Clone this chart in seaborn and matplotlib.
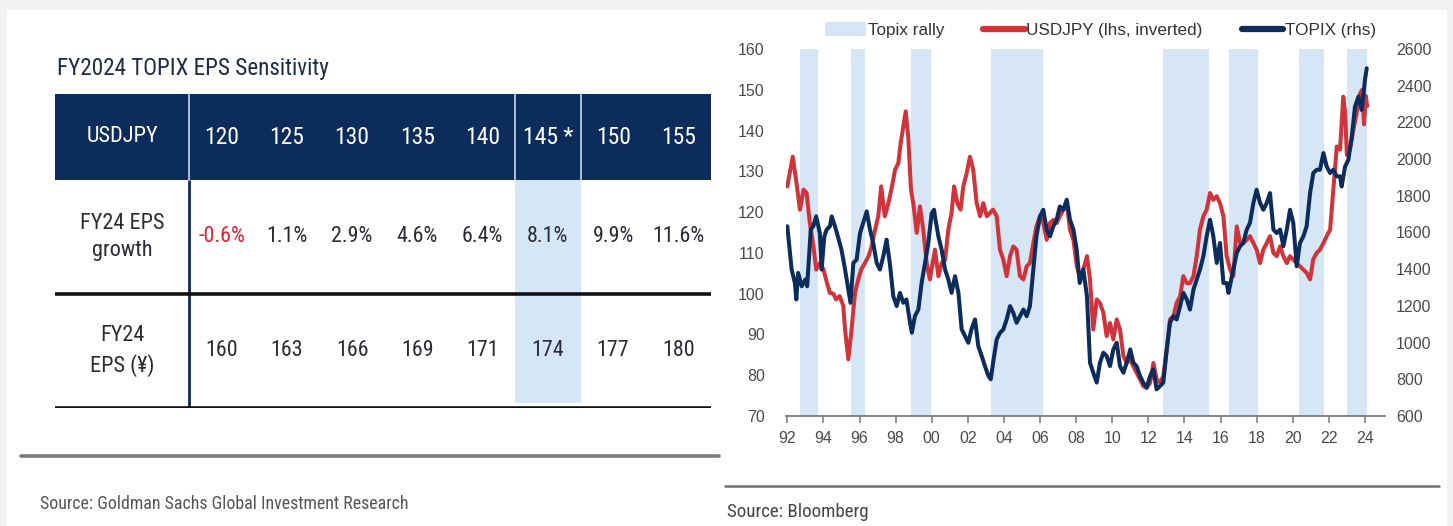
import matplotlib
matplotlib.use("Agg")
import matplotlib.pyplot as plt
from matplotlib import font_manager as fm
from matplotlib.font_manager import FontProperties
from matplotlib.patches import Rectangle, Patch
from matplotlib.lines import Line2D
import seaborn as sns

# ---------------- data ----------------
table_title = "FY2024 TOPIX EPS Sensitivity"
usdjpy_levels = ["120", "125", "130", "135", "140", "145 *", "150", "155"]
eps_growth = ["-0.6%", "1.1%", "2.9%", "4.6%", "6.4%", "8.1%", "9.9%", "11.6%"]
eps_level = ["160", "163", "166", "169", "171", "174", "177", "180"]
row_labels = ["USDJPY", "FY24 EPS\ngrowth", "FY24\nEPS (¥)"]
highlight_col = 5

usd_t = [1992.00, 1992.30, 1992.50, 1992.70, 1992.90, 1993.07, 1993.25, 1993.45, 1993.60, 1993.80,
         1994.00, 1994.20, 1994.36, 1994.55, 1994.70, 1994.90, 1995.10, 1995.20, 1995.38, 1995.56,
         1995.75, 1995.93, 1996.10, 1996.30, 1996.50, 1996.67, 1996.86, 1997.04, 1997.20, 1997.40,
         1997.60, 1997.80, 1997.97, 1998.15, 1998.28, 1998.43, 1998.56, 1998.70, 1998.85, 1998.98,
         1999.17, 1999.35, 1999.53, 1999.72, 1999.90, 2000.18, 2000.37, 2000.55, 2000.74, 2000.92,
         2001.10, 2001.24, 2001.42, 2001.60, 2001.75, 2001.94, 2002.12, 2002.30, 2002.49, 2002.68,
         2002.86, 2003.05, 2003.23, 2003.40, 2003.60, 2003.78, 2003.97, 2004.15, 2004.34, 2004.52,
         2004.70, 2004.89, 2005.08, 2005.26, 2005.44, 2005.63, 2005.80, 2006.00, 2006.18, 2006.37,
         2006.55, 2006.74, 2006.92, 2007.10, 2007.29, 2007.48, 2007.66, 2007.85, 2008.03, 2008.20,
         2008.40, 2008.60, 2008.77, 2008.95, 2009.14, 2009.32, 2009.51, 2009.69, 2009.88, 2010.06,
         2010.25, 2010.43, 2010.62, 2010.80, 2011.00, 2011.17, 2011.35, 2011.54, 2011.72, 2011.91,
         2012.10, 2012.28, 2012.46, 2012.65, 2012.83, 2013.02, 2013.20, 2013.39, 2013.57, 2013.76,
         2013.94, 2014.13, 2014.31, 2014.50, 2014.68, 2014.86, 2015.05, 2015.23, 2015.42, 2015.60,
         2015.79, 2015.97, 2016.16, 2016.34, 2016.53, 2016.71, 2016.90, 2017.08, 2017.26, 2017.45,
         2017.63, 2017.82, 2018.00, 2018.19, 2018.37, 2018.56, 2018.74, 2018.93, 2019.11, 2019.30,
         2019.48, 2019.67, 2019.85, 2020.03, 2020.22, 2020.40, 2020.59, 2020.77, 2020.96, 2021.14,
         2021.33, 2021.51, 2021.70, 2021.88, 2022.07, 2022.25, 2022.44, 2022.62, 2022.80, 2022.90,
         2023.00, 2023.17, 2023.36, 2023.54, 2023.73, 2023.85, 2023.95, 2024.05, 2024.12]
usd_v = [126.3, 133.6, 127.5, 120.6, 125.5, 124.7, 117.3, 111.6, 105.9, 107.5,
         106.0, 102.6, 100.2, 100.0, 98.6, 99.4, 97.0, 91.2, 83.9, 91.2,
         100.2, 103.5, 106.0, 107.5, 109.2, 111.6, 115.7, 119.0, 126.3, 119.0,
         122.2, 126.3, 130.4, 132.0, 136.9, 141.0, 144.7, 138.5, 125.5, 122.2,
         114.9, 121.4, 115.7, 107.5, 103.5, 110.8, 104.3, 107.5, 108.3, 115.7,
         119.8, 126.3, 122.2, 120.6, 126.3, 129.6, 133.6, 130.4, 122.2, 119.0,
         122.2, 119.0, 119.8, 120.6, 119.0, 110.8, 108.3, 104.3, 109.2, 111.6,
         110.8, 104.3, 103.5, 106.7, 107.5, 112.4, 116.5, 119.0, 117.3, 113.2,
         117.3, 118.1, 117.3, 119.0, 120.6, 122.2, 115.7, 113.2, 107.0, 104.0,
         106.0, 109.2, 103.5, 91.2, 98.6, 97.7, 95.3, 89.6, 92.8, 88.8,
         93.7, 91.2, 84.7, 83.0, 83.9, 82.2, 80.6, 79.0, 77.3, 76.9,
         78.2, 83.0, 79.0, 78.2, 79.8, 86.3, 93.7, 94.5, 97.7, 99.4,
         104.3, 102.6, 102.6, 104.3, 109.2, 115.7, 119.0, 120.6, 124.7, 123.0,
         123.9, 122.2, 119.0, 109.2, 105.9, 104.3, 116.5, 112.5, 112.4, 113.2,
         114.1, 112.4, 110.8, 107.5, 110.8, 112.4, 114.1, 110.0, 109.2, 111.6,
         109.2, 107.5, 109.2, 108.3, 107.5, 106.7, 105.9, 105.1, 103.5, 108.5,
         110.0, 110.8, 112.4, 114.1, 115.7, 125.5, 136.1, 135.3, 148.3, 144.3,
         134.0, 135.3, 140.2, 144.3, 149.1, 150.0, 141.5, 148.5, 146.0]

topix_t = [1992.00, 1992.24, 1992.42, 1992.50, 1992.60, 1992.80, 1993.00, 1993.10, 1993.30, 1993.44,
           1993.60, 1993.80, 1993.90, 1994.05, 1994.18, 1994.36, 1994.46, 1994.64, 1994.80, 1995.00,
           1995.20, 1995.38, 1995.50, 1995.66, 1995.84, 1996.03, 1996.20, 1996.40, 1996.58, 1996.76,
           1996.95, 1997.13, 1997.32, 1997.50, 1997.70, 1997.87, 1998.06, 1998.24, 1998.43, 1998.60,
           1998.80, 1998.90, 1999.07, 1999.26, 1999.44, 1999.63, 1999.81, 2000.00, 2000.13, 2000.18,
           2000.37, 2000.55, 2000.74, 2000.92, 2001.10, 2001.29, 2001.48, 2001.66, 2001.85, 2002.03,
           2002.20, 2002.40, 2002.58, 2002.77, 2002.95, 2003.14, 2003.27, 2003.40, 2003.60, 2003.78,
           2003.97, 2004.15, 2004.34, 2004.52, 2004.70, 2004.89, 2005.08, 2005.26, 2005.44, 2005.63,
           2005.80, 2006.00, 2006.18, 2006.37, 2006.55, 2006.74, 2006.92, 2007.10, 2007.29, 2007.48,
           2007.66, 2007.85, 2008.03, 2008.20, 2008.40, 2008.60, 2008.77, 2008.95, 2009.14, 2009.32,
           2009.51, 2009.69, 2009.88, 2010.06, 2010.25, 2010.43, 2010.62, 2010.80, 2011.00, 2011.17,
           2011.35, 2011.54, 2011.72, 2011.91, 2012.10, 2012.28, 2012.46, 2012.65, 2012.83, 2013.02,
           2013.20, 2013.39, 2013.57, 2013.76, 2013.94, 2014.13, 2014.31, 2014.50, 2014.68, 2014.86,
           2015.05, 2015.23, 2015.42, 2015.60, 2015.79, 2015.97, 2016.16, 2016.34, 2016.44, 2016.71,
           2016.90, 2017.08, 2017.26, 2017.45, 2017.63, 2017.82, 2018.00, 2018.19, 2018.37, 2018.56,
           2018.74, 2018.93, 2019.11, 2019.30, 2019.48, 2019.67, 2019.85, 2020.03, 2020.22, 2020.40,
           2020.59, 2020.77, 2020.96, 2021.14, 2021.33, 2021.51, 2021.70, 2021.88, 2022.07, 2022.25,
           2022.44, 2022.62, 2022.71, 2022.90, 2023.08, 2023.27, 2023.45, 2023.64, 2023.82, 2023.91,
           2024.00, 2024.10]
topix_v = [1634, 1398, 1325, 1235, 1380, 1307, 1344, 1307, 1616, 1634,
           1688, 1597, 1398, 1579, 1616, 1634, 1688, 1634, 1579, 1507,
           1398, 1289, 1217, 1434, 1452, 1597, 1652, 1715, 1616, 1543,
           1434, 1398, 1471, 1561, 1416, 1253, 1199, 1271, 1217, 1235,
           1109, 1054, 1144, 1180, 1325, 1434, 1543, 1705, 1724, 1688,
           1579, 1507, 1398, 1344, 1271, 1362, 1271, 1072, 1035, 999,
           1072, 1126, 981, 927, 872, 818, 800, 890, 1017, 1053,
           1072, 1126, 1199, 1162, 1108, 1144, 1180, 1144, 1199, 1398,
           1579, 1688, 1724, 1616, 1579, 1634, 1670, 1742, 1724, 1779,
           1670, 1616, 1507, 1325, 1398, 1253, 890, 836, 782, 890,
           945, 927, 872, 963, 999, 872, 836, 890, 963, 890,
           872, 818, 782, 755, 818, 854, 745, 763, 782, 963,
           1108, 1144, 1126, 1199, 1271, 1235, 1180, 1289, 1344, 1398,
           1471, 1579, 1670, 1579, 1434, 1543, 1325, 1325, 1271, 1398,
           1489, 1525, 1543, 1616, 1652, 1761, 1833, 1761, 1724, 1761,
           1815, 1616, 1597, 1616, 1525, 1616, 1724, 1652, 1416, 1543,
           1579, 1634, 1815, 1924, 1942, 1942, 2033, 1960, 1924, 1942,
           1906, 1906, 1851, 1960, 1996, 2123, 2286, 2341, 2268, 2341,
           2431, 2495]

rally_start = [1992.70, 1995.53, 1998.85, 2003.27, 2012.83, 2016.47, 2020.33, 2022.99]
rally_end = [1993.72, 1996.30, 1999.96, 2006.18, 2015.38, 2018.10, 2021.75, 2024.10]

x_ticks = list(range(1992, 2025, 2))
lhs_ticks = list(range(70, 161, 10))
rhs_ticks = list(range(600, 2601, 200))

legend_labels = ["Topix rally", "USDJPY (lhs, inverted)", "TOPIX (rhs)"]

# ---------------- style ----------------
sns.set_theme(style="white")
plt.rcParams["font.family"] = ["Liberation Sans", "DejaVu Sans"]


def find_condensed_font():
    best = None
    for f in fm.fontManager.ttflist:
        nm = f.name.lower()
        st = str(f.stretch).lower()
        if "mono" in nm or "cjk" in nm or ("serif" in nm and "sans" not in nm):
            continue
        cond = ("condensed" in st or "narrow" in nm or "condensed" in nm)
        if not cond or f.style != "normal":
            continue
        if f.weight not in (400, "normal", "regular", "book"):
            continue
        score = 0
        if "liberation" in nm:
            score = 5
        elif "roboto" in nm:
            score = 4
        elif "open sans" in nm:
            score = 3
        elif "noto sans" in nm:
            score = 2
        elif "dejavu" in nm:
            score = 1
        if st in ("extra-condensed", "ultra-condensed"):
            score -= 0.5
        if best is None or score > best[0]:
            best = (score, f.fname)
    return best[1] if best else None


COND_FILE = find_condensed_font()


def nprops(size):
    if COND_FILE:
        return FontProperties(fname=COND_FILE, size=size)
    return FontProperties(family=["Liberation Sans", "DejaVu Sans"], size=size)


W, H = 1453, 526
NAVY = "#0c2d5b"
RED = "#d0343a"
BAND = "#d6e6f5"
HL = "#d5e6f6"
TXT = "#2b2b35"

fig = plt.figure(figsize=(W / 100, H / 100), dpi=100, facecolor="#f2f2f2")
fig.patches.append(Rectangle((7 / W, 0), (1447 - 7) / W, (H - 10) / H,
                             transform=fig.transFigure, facecolor="white",
                             edgecolor="none", zorder=-10))


def fx(x):
    return x / W


def fy(y):
    return 1 - y / H


# ---------------- table (left) ----------------
t_title = fig.text(fx(57), fy(68), table_title, fontproperties=nprops(18),
                   color="#1f2a44", ha="left", va="center")

LBLW = (189 - 55) / 65.25
HDR = 86 / 114
ax_t = fig.add_axes([fx(55), fy(408), (711 - 55) / W, (408 - 94) / H])
ax_t.set_xlim(-LBLW, 8)
ax_t.set_ylim(HDR + 2, 0)
ax_t.axis("off")

ncol = len(usdjpy_levels)
ax_t.add_patch(Rectangle((-LBLW, 0), LBLW + ncol, HDR, facecolor=NAVY, edgecolor="none"))
ax_t.add_patch(Rectangle((highlight_col, HDR), 1, 2 - 0.04, facecolor=HL, edgecolor="none"))
for xs in [0, highlight_col, highlight_col + 1]:
    ax_t.plot([xs, xs], [0, HDR], color="#c9d9ec", lw=1.2, solid_capstyle="butt")
ax_t.plot([0, 0], [HDR, HDR + 2], color=NAVY, lw=2.0, solid_capstyle="butt")
for yy in [HDR + 1, HDR + 2]:
    ax_t.plot([-LBLW, ncol], [yy, yy], color="#111111", lw=2.6, solid_capstyle="butt")

t_hlabel = ax_t.text(-LBLW / 2, HDR / 2, row_labels[0], fontproperties=nprops(16),
                     color="white", ha="center", va="center")
t_r1 = ax_t.text(-LBLW / 2, HDR + 0.5, row_labels[1], fontproperties=nprops(15.5),
                 color=TXT, ha="center", va="center", linespacing=1.4)
t_r2 = ax_t.text(-LBLW / 2, HDR + 1.5, row_labels[2], fontproperties=nprops(15.5),
                 color=TXT, ha="center", va="center", linespacing=1.4)
hdr_texts, cell_texts = [], []
for i in range(ncol):
    hdr_texts.append(ax_t.text(i + 0.5, HDR / 2, usdjpy_levels[i], fontproperties=nprops(16),
                               color="white", ha="center", va="center"))
    g = eps_growth[i]
    cell_texts.append(ax_t.text(i + 0.5, HDR + 0.5, g, fontproperties=nprops(16),
                                color="#e8202a" if g.startswith("-") else TXT,
                                ha="center", va="center"))
    cell_texts.append(ax_t.text(i + 0.5, HDR + 1.5, eps_level[i], fontproperties=nprops(16),
                                color=TXT, ha="center", va="center"))

# separators and sources
fig.lines.append(Line2D([fx(21), fx(719)], [fy(456), fy(456)], transform=fig.transFigure,
                        color="#7a7a7a", lw=2.6))
fig.lines.append(Line2D([fx(725), fx(1439)], [fy(486), fy(486)], transform=fig.transFigure,
                        color="#707070", lw=1.8))
t_src1 = fig.text(fx(40), fy(504), "Source: Goldman Sachs Global Investment Research",
                  fontproperties=nprops(15), color="#555555", ha="left", va="center")
t_src2 = fig.text(fx(727), fy(512), "Source: Bloomberg", fontproperties=nprops(13.5),
                  color="#444444", ha="left", va="center")

# ---------------- chart (right) ----------------
ax = fig.add_axes([fx(785.5), fy(416), (1384.8 - 785.5) / W, (416 - 49) / H])
ax.set_facecolor("none")
ax.set_xlim(1991.9, 2025.1)
ax.set_ylim(70, 160)
for s, e in zip(rally_start, rally_end):
    ax.axvspan(s, e, color=BAND, lw=0, zorder=0)
sns.lineplot(x=usd_t, y=usd_v, ax=ax, color=RED, linewidth=2.9, estimator=None, sort=False, zorder=3)

ax2 = ax.twinx()
ax2.set_ylim(600, 2600)
sns.lineplot(x=topix_t, y=topix_v, ax=ax2, color=NAVY, linewidth=2.9, estimator=None, sort=False, zorder=3)

ax.set_xticks(x_ticks)
ax.set_xticklabels([f"{t % 100:02d}" for t in x_ticks])
ax.set_yticks(lhs_ticks)
ax.set_yticklabels([str(v) for v in lhs_ticks])
ax2.set_yticks(rhs_ticks)
ax2.set_yticklabels([str(v) for v in rhs_ticks])
ax.set_xlabel("")
ax.set_ylabel("")
ax2.set_ylabel("")

for a in (ax, ax2):
    for sp in ["top", "left", "right", "bottom"]:
        a.spines[sp].set_visible(False)
ax.spines["bottom"].set_visible(True)
ax.spines["bottom"].set_color("#7a7a7a")
ax.spines["bottom"].set_linewidth(1.3)

ax.tick_params(axis="x", bottom=True, length=5, width=1.1, color="#7a7a7a", pad=6,
               labelsize=11.5, labelcolor="#4a4a4a", direction="out")
ax.tick_params(axis="y", left=False, length=0, pad=15, labelsize=11.5, labelcolor="#4a4a4a")
ax2.tick_params(axis="y", right=False, length=0, pad=8, labelsize=11.5, labelcolor="#4a4a4a")
ax.grid(False)
ax2.grid(False)

handles = [Patch(facecolor=BAND, edgecolor="none"),
           Line2D([0], [0], color=RED, lw=4.5),
           Line2D([0], [0], color=NAVY, lw=4.5)]
fig.legend(handles, legend_labels, loc="center left", bbox_to_anchor=(fx(825), fy(30)),
           bbox_transform=fig.transFigure, ncol=3, frameon=False, fontsize=12.3,
           handlelength=2.4, handleheight=0.9, handletextpad=0.1, columnspacing=2.3,
           borderpad=0, borderaxespad=0, labelcolor="#333333")

# ---------------- fit left-panel text widths to the reference ----------------
fig.canvas.draw()
rend = fig.canvas.get_renderer()


def fit_group(sample, target_w, group):
    w = sample.get_window_extent(renderer=rend).width
    if w <= 0:
        return
    f = target_w / w
    for t in group:
        t.set_fontsize(t.get_fontsize() * f)


fit_group(t_title, 273, [t_title])
fit_group(t_src1, 368, [t_src1])
fit_group(t_src2, 141, [t_src2])
fit_group(t_hlabel, 72, [t_hlabel])
fit_group(hdr_texts[7], 35, hdr_texts)
fit_group(cell_texts[14], 52, cell_texts)
fit_group(t_r1, 84, [t_r1, t_r2])

fig.savefig("out.png", dpi=100, facecolor=fig.get_facecolor())
